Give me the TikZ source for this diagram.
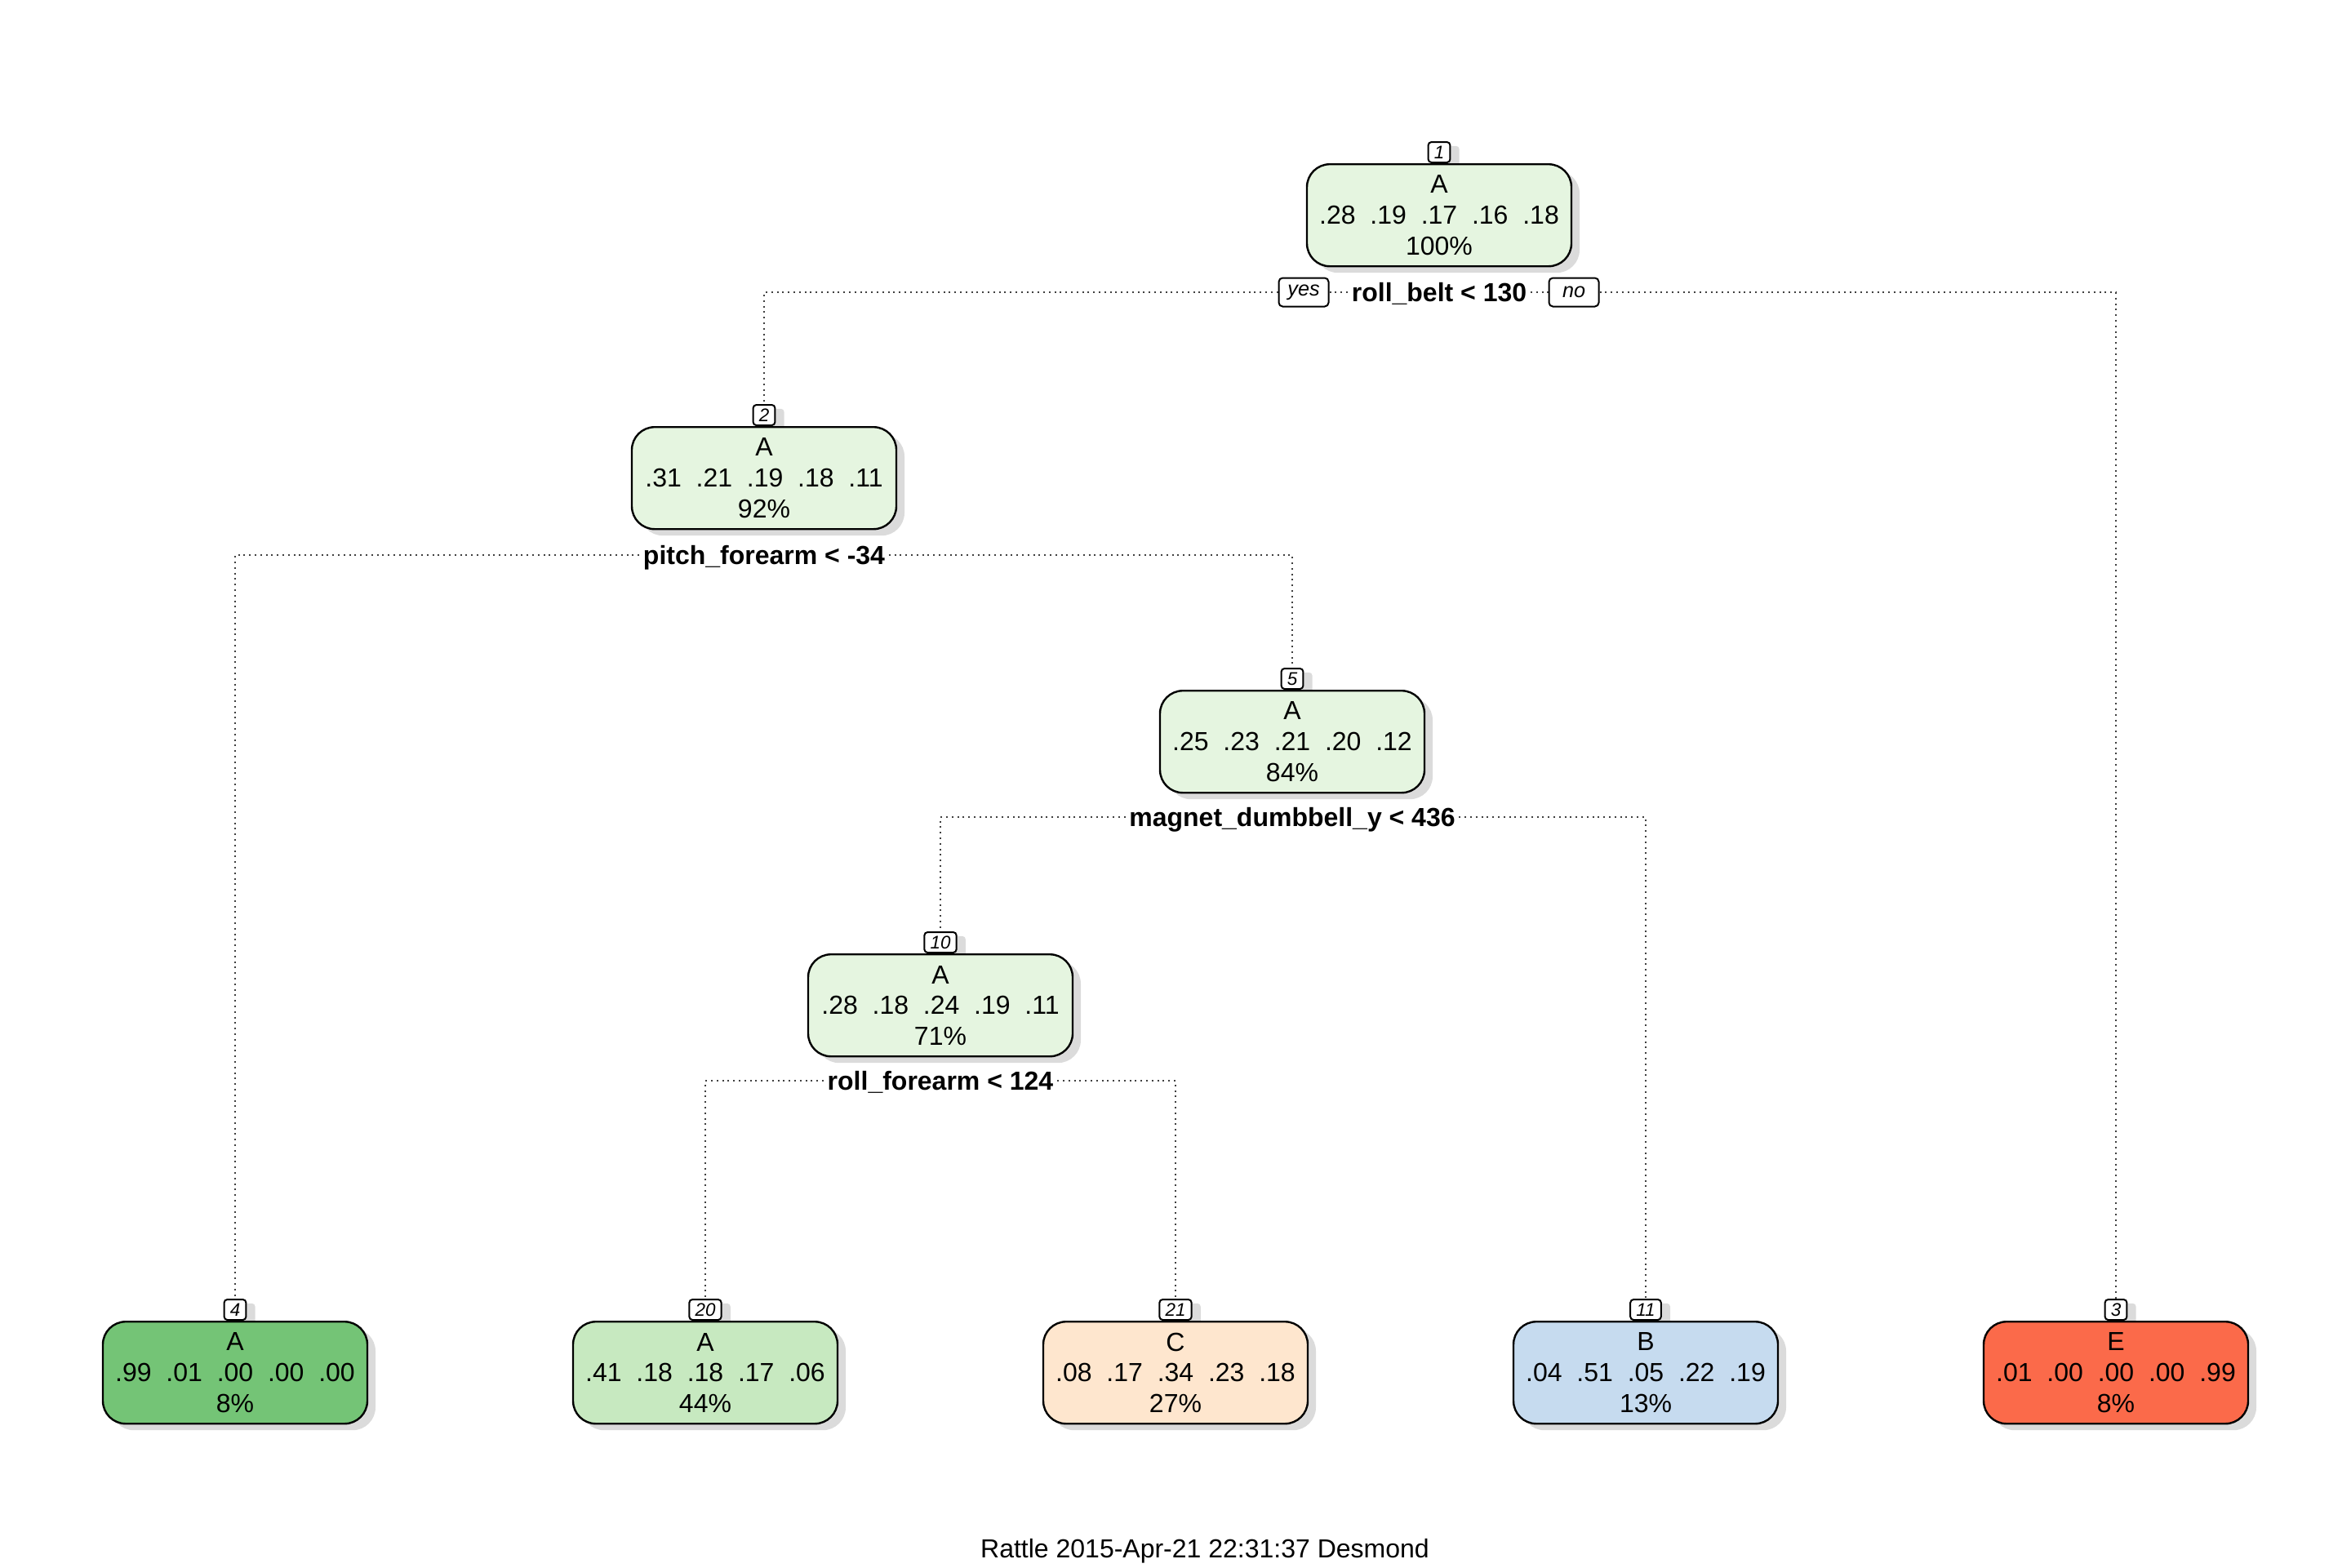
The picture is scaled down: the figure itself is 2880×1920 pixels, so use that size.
\documentclass[tikz,border=0pt]{standalone}
\usepackage{fontspec}
\setmainfont{Liberation Sans}
\usetikzlibrary{shadows}
\pgfdeclarelayer{bg}
\pgfsetlayers{bg,main}
\newcommand\gp{\hspace{0.556em}}
\definecolor{gLight}{HTML}{E5F5E0}
\definecolor{gMid}{HTML}{C7E9C0}
\definecolor{gDark}{HTML}{74C476}
\definecolor{oLight}{HTML}{FEE6CE}
\definecolor{bLight}{HTML}{C6DBEF}
\definecolor{rMid}{HTML}{FB6A4A}

\begin{document}
\begin{tikzpicture}[x=0.25pt,y=-0.25pt,
  treenode/.style={draw=black, line width=0.6pt, rounded corners=7pt,
    minimum width=81pt, minimum height=31.25pt, align=center, inner sep=0pt,
    anchor=north, font=\fontsize{8}{9.4}\selectfont,
    drop shadow={shadow xshift=2.5pt, shadow yshift=-2pt, fill=black!28}},
  numbox/.style={draw=black, line width=0.5pt, fill=white, rounded corners=1pt,
    minimum width=6.5pt, minimum height=6.25pt, inner xsep=1.8pt, inner ysep=0pt,
    anchor=south, font=\fontsize{5.6}{6.4}\selectfont\itshape,
    drop shadow={shadow xshift=2.8pt, shadow yshift=-1.2pt, fill=black!28}},
  splitlab/.style={fill=white, inner xsep=1pt, inner ysep=0pt,
    text height=5.73pt, text depth=0pt, font=\fontsize{8}{9.6}\selectfont\bfseries},
  yesno/.style={draw=black, line width=0.5pt, fill=white, rounded corners=1.2pt,
    minimum width=15.25pt, minimum height=8.75pt, inner sep=0pt,
    font=\fontsize{6.3}{7.5}\selectfont\itshape},
  conn/.style={black!75, line width=0.5pt, dash pattern=on 0.5pt off 1.2pt}
]
\useasboundingbox (0,0) rectangle (2880,1920);

% number tags (drawn first so the boxes below cover their shadows)
\node[numbox] (n1num)  at (1763,200)  {1};
\node[numbox] (n2num)  at (936,522)   {2};
\node[numbox] (n5num)  at (1583,845)  {5};
\node[numbox] (n10num) at (1152,1168) {10};
\node[numbox] (n4num)  at (288,1618)  {4};
\node[numbox] (n20num) at (864,1618)  {20};
\node[numbox] (n21num) at (1440,1618) {21};
\node[numbox] (n11num) at (2016,1618) {11};
\node[numbox] (n3num)  at (2592,1618) {3};

% inner nodes
\node[treenode, fill=gLight] (n1)  at (1763,200)  {A\\.28\gp.19\gp.17\gp.16\gp.18\\100\%};
\node[treenode, fill=gLight] (n2)  at (936,522)   {A\\.31\gp.21\gp.19\gp.18\gp.11\\92\%};
\node[treenode, fill=gLight] (n5)  at (1583,845)  {A\\.25\gp.23\gp.21\gp.20\gp.12\\84\%};
\node[treenode, fill=gLight] (n10) at (1152,1168) {A\\.28\gp.18\gp.24\gp.19\gp.11\\71\%};

% leaves
\node[treenode, fill=gDark]  (n4)  at (288,1618)  {A\\.99\gp.01\gp.00\gp.00\gp.00\\8\%};
\node[treenode, fill=gMid]   (n20) at (864,1618)  {A\\.41\gp.18\gp.18\gp.17\gp.06\\44\%};
\node[treenode, fill=oLight] (n21) at (1440,1618) {C\\.08\gp.17\gp.34\gp.23\gp.18\\27\%};
\node[treenode, fill=bLight] (n11) at (2016,1618) {B\\.04\gp.51\gp.05\gp.22\gp.19\\13\%};
\node[treenode, fill=rMid]   (n3)  at (2592,1618) {E\\.01\gp.00\gp.00\gp.00\gp.99\\8\%};

% split rules
\node[splitlab] (s1)  at (1763,358)  {roll\_belt < 130};
\node[yesno]    (yes) at (1597,358)  {yes};
\node[yesno]    (no)  at (1928,358)  {no};
\node[splitlab] (s2)  at (936,680)   {pitch\_forearm < -34};
\node[splitlab] (s5)  at (1583,1001) {magnet\_dumbbell\_y < 436};
\node[splitlab] (s10) at (1152,1324) {roll\_forearm < 124};

% branches
\begin{pgfonlayer}{bg}
\draw[conn] (yes.west) -| (n2num.north);
\draw[conn] (yes.east) -- (s1.west);
\draw[conn] (s1.east) -- (no.west);
\draw[conn] (no.east) -| (n3num.north);
\draw[conn] (s2.west) -| (n4num.north);
\draw[conn] (s2.east) -| (n5num.north);
\draw[conn] (s5.west) -| (n10num.north);
\draw[conn] (s5.east) -| (n11num.north);
\draw[conn] (s10.west) -| (n20num.north);
\draw[conn] (s10.east) -| (n21num.north);
\end{pgfonlayer}

\node[anchor=base, font=\fontsize{8}{9.6}\selectfont] (foot) at (1476,1908)
  {Rattle 2015-Apr-21 22:31:37 Desmond};
\end{tikzpicture}
\end{document}
